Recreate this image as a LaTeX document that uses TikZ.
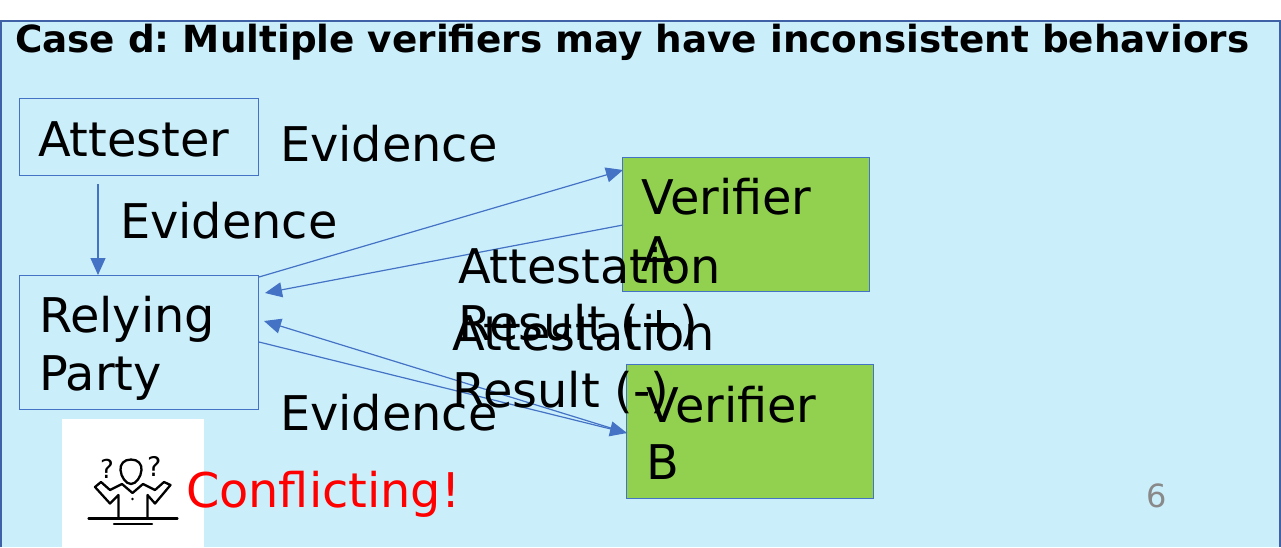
\documentclass[tikz,border=0pt]{standalone}
\usepackage{fontspec}
\setmainfont{DejaVu Sans}
\usetikzlibrary{arrows.meta}
\definecolor{slidebg}{HTML}{CBEEFB}
\definecolor{slideedge}{HTML}{3F62A6}
\definecolor{boxedge}{HTML}{4472C4}
\definecolor{greenbox}{HTML}{92D050}
\tikzset{
  x=1pt,y=-1pt,
  lbl/.style={anchor=base west,inner sep=0pt,outer sep=0pt,font=\fontsize{47.8}{57}\selectfont,text=black},
  plainbox/.style={draw=boxedge,line width=0.9pt,inner sep=0pt,anchor=north west},
  verifierbox/.style={plainbox,fill=greenbox},
  conn/.style={draw=boxedge,line width=1.2pt,-{Triangle[length=17pt,width=15pt]}},
  iconline/.style={draw=black,line width=2.3pt,line cap=round,line join=round},
}
\begin{document}
\begin{tikzpicture}
\frenchspacing
\useasboundingbox (0,0) rectangle (1281,547);
\fill[white] (0,0) rectangle (1281,547);
\fill[slidebg] (0,20) rectangle (1281,547);
\draw[slideedge,line width=2pt] (1,547) -- (1,20.5) -- (1280,20.5) -- (1280,547);
\node[lbl,font=\bfseries\fontsize{37.35}{44}\selectfont] (title) at (15,52) {Case d: Multiple verifiers may have inconsistent behaviors};
% boxes
\node[plainbox,minimum width=239pt,minimum height=77pt] (att) at (18.7,98) {};
\node[plainbox,minimum width=239pt,minimum height=134pt] (rp) at (18.9,275) {};
\node[verifierbox,minimum width=247pt,minimum height=134pt] (va) at (621.8,157) {};
\node[verifierbox,minimum width=247pt,minimum height=134pt] (vb) at (625.8,364) {};
\node[lbl] (attt) at (38,156.5) {Attester};
\node[lbl] (rp1) at (39,332.5) {Relying};
\node[lbl] (rp2) at (39,390) {Party};
\node[lbl] (va1) at (641,214.5) {Verifier};
\node[lbl] (va2) at (641,271.5) {A};
\node[lbl] (vb1) at (646,422) {Verifier};
\node[lbl] (vb2) at (646,479) {B};
% free connector ends
\coordinate (a0) at (98,184);
\coordinate (a1) at (98,275);
\coordinate (e1s) at (259,277);
\coordinate (e1t) at (623,170);
\coordinate (r1s) at (623,225);
\coordinate (r1t) at (265,293);
\coordinate (r2s) at (627,433);
\coordinate (r2t) at (264,321);
\coordinate (e2s) at (259,342);
\coordinate (e2t) at (627,433);
\draw[conn] (a0) -- (a1);
\draw[conn] (e1s) -- (e1t);
\draw[conn] (r1s) -- (r1t);
\draw[conn] (r2s) -- (r2t);
\draw[conn] (e2s) -- (e2t);
% labels
\node[lbl] (ev1) at (280,161) {Evidence};
\node[lbl] (ev2) at (120,238) {Evidence};
\node[lbl] (ev3) at (280,430) {Evidence};
\node[lbl] (ar1a) at (458,283.5) {Attestation};
\node[lbl] (ar1b) at (458,340.5) {Result (+)};
\node[lbl] (ar2a) at (452,350) {Attestation};
\node[lbl] (ar2b) at (452,407) {Result (-)};
% icon
\fill[white] (62,419) rectangle (204,547);
\node[lbl,text=red] (conf) at (186,507) {Conflicting!};
\node[lbl,text={rgb,255:red,137;green,137;blue,137},font=\fontsize{32}{38}\selectfont] (num) at (1146,507) {6};
\draw[iconline] (88.5,518.5) -- (177.5,518.5);
\draw[iconline] (114,523.7) -- (152,523.7);
\draw[iconline] (131,459.5) .. controls (124,459.5) and (120,464) .. (120.5,470) .. controls (121,477) and (126,484) .. (131,484) .. controls (136,484) and (141,477) .. (141.5,470) .. controls (142,464) and (138,459.5) .. (131,459.5) -- cycle;
\draw[iconline] (118.5,518) -- (118.5,495) -- (110,503.5) -- (95,487) -- (101,482) -- (110,490) -- (122,484) -- (132.5,493) -- (143,484) -- (155,490) -- (164,482) -- (170.5,485) -- (155,503.5) -- (147.5,495) -- (147.5,518);
\fill (132.5,499) circle (1.3pt);
\node[lbl,font=\fontsize{26}{30}\selectfont] (q1) at (100,478) {?};
\node[lbl,font=\fontsize{27}{30}\selectfont] (q2) at (147,476) {?};
\end{tikzpicture}
\end{document}
